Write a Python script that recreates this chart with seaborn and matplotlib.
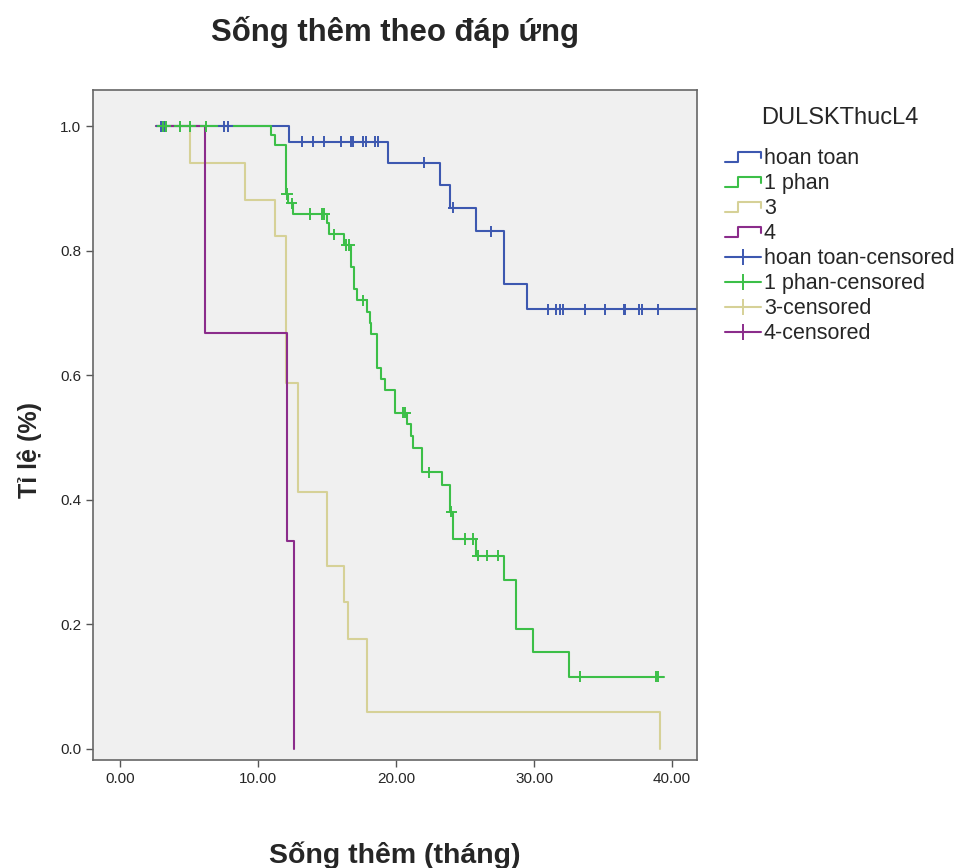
import numpy as np
import pandas as pd
import matplotlib
matplotlib.use("Agg")
import matplotlib.pyplot as plt
import seaborn as sns
from matplotlib.lines import Line2D
from matplotlib.legend_handler import HandlerBase

# ---------------- data ----------------
groups = ["hoan toan", "1 phan", "3", "4"]
start_time = 2.6

ht_event_t = [12.25, 19.4, 23.2, 23.9, 25.8, 27.85, 29.5]
ht_surv = [0.975, 0.941, 0.905, 0.869, 0.831, 0.747, 0.706]
ht_end = 43.0
ht_censor_t = [3.0, 3.2, 7.5, 7.8, 13.2, 14.0, 14.8, 16.0, 16.7, 16.9, 17.6,
               17.8, 18.5, 18.7, 22.05, 24.15, 26.9, 31.0, 31.6, 31.9, 32.1,
               33.7, 35.1, 36.5, 36.6, 37.6, 37.8, 39.0]

p1_event_t = [10.94, 11.2, 12.0, 12.2, 12.5, 15.0, 15.14, 16.25, 16.7, 16.96,
              17.2, 17.9, 18.1, 18.2, 18.6, 18.9, 19.2, 19.9, 20.8, 21.05,
              21.2, 21.9, 23.3, 23.9, 24.1, 25.8, 27.8, 28.7, 29.9, 32.5]
p1_surv = [0.986, 0.969, 0.891, 0.876, 0.859, 0.844, 0.826, 0.809, 0.773, 0.739,
           0.720, 0.702, 0.684, 0.666, 0.612, 0.594, 0.576, 0.540, 0.522, 0.502,
           0.483, 0.444, 0.424, 0.381, 0.337, 0.310, 0.271, 0.193, 0.155, 0.116]
p1_end = 39.4
p1_censor_t = [3.1, 3.3, 4.35, 5.1, 6.2, 12.1, 12.43, 13.77, 14.6, 14.78, 15.53,
               16.4, 16.6, 17.57, 20.5, 20.65, 22.35, 24.0, 25.0, 25.55, 25.9,
               26.6, 27.4, 33.3, 38.85, 39.0]

g3_event_t = [5.07, 9.06, 11.2, 12.0, 12.92, 15.0, 16.25, 16.5, 17.87, 39.1]
g3_surv = [0.941, 0.882, 0.824, 0.588, 0.412, 0.294, 0.235, 0.176, 0.059, 0.0]
g3_end = 39.1
g3_censor_t = []

g4_event_t = [6.16, 12.08, 12.63]
g4_surv = [0.667, 0.333, 0.0]
g4_end = 12.63
g4_censor_t = []

x_ticks = [0, 10, 20, 30, 40]
y_ticks = [0.0, 0.2, 0.4, 0.6, 0.8, 1.0]

colors = ["#3d58b0", "#3cbf48", "#d6d197", "#8b2c8b"]

# ---------------- build tables ----------------
series = {
    "hoan toan": (ht_event_t, ht_surv, ht_end, ht_censor_t),
    "1 phan": (p1_event_t, p1_surv, p1_end, p1_censor_t),
    "3": (g3_event_t, g3_surv, g3_end, g3_censor_t),
    "4": (g4_event_t, g4_surv, g4_end, g4_censor_t),
}

rows, crows = [], []
for g in groups:
    ev, sv, end, cens = series[g]
    rows.append((g, start_time, 1.0))
    for t, s in zip(ev, sv):
        rows.append((g, t, s))
    rows.append((g, end, sv[-1]))
    ev_arr = np.array(ev)
    for c in cens:
        idx = np.searchsorted(ev_arr, c, side="right") - 1
        crows.append((g, c, 1.0 if idx < 0 else sv[idx]))

df = pd.DataFrame(rows, columns=["group", "time", "surv"])
cdf = pd.DataFrame(crows, columns=["group", "time", "surv"])
pal = dict(zip(groups, colors))

# ---------------- plot ----------------
sns.set_style("white")
plt.rcParams["font.family"] = ["Liberation Sans", "DejaVu Sans"]

fig = plt.figure(figsize=(9.58, 8.68), dpi=100)
ax = fig.add_axes([93 / 958, 1 - 760 / 868, (697 - 93) / 958, (760 - 90) / 868])
ax.set_facecolor("#f0f0f0")

sns.lineplot(data=df, x="time", y="surv", hue="group", hue_order=groups,
             palette=pal, drawstyle="steps-post", estimator=None, sort=False,
             linewidth=1.5, legend=False, ax=ax)
sns.scatterplot(data=cdf, x="time", y="surv", hue="group", hue_order=groups,
                palette=pal, marker="+", s=65, linewidth=1.4, legend=False,
                ax=ax, zorder=3)

ax.set_xlim(-1.96, 41.8)
ax.set_ylim(-0.018, 1.058)
ax.set_xticks(x_ticks)
ax.set_xticklabels([f"{v:.2f}" for v in x_ticks], fontsize=11)
ax.set_yticks(y_ticks)
ax.set_yticklabels([f"{v:.1f}" for v in y_ticks], fontsize=11)
ax.tick_params(axis="both", direction="out", length=5, width=1, color="#555555",
               left=True, bottom=True)
for sp in ax.spines.values():
    sp.set_color("#666666")
    sp.set_linewidth(1.2)

ax.set_xlabel("Sống thêm (tháng)", fontsize=20.5, fontweight="bold")
ax.xaxis.set_label_coords(0.5, (760 - 855) / 670)
ax.xaxis.label.set_va("center")
ax.set_ylabel("Tỉ lệ (%)", fontsize=18, fontweight="bold")
ax.yaxis.set_label_coords((30 - 93) / 604, (760 - 450) / 670)
ax.yaxis.label.set_va("center")
fig.text(395 / 958, 1 - 32 / 868, "Sống thêm theo đáp ứng", ha="center",
         va="center", fontsize=22.4, fontweight="bold")


class StepHandler(HandlerBase):
    def create_artists(self, legend, orig_handle, xdescent, ydescent, width,
                       height, fontsize, trans):
        x0 = -xdescent
        lo = -ydescent + height * 0.15
        hi = -ydescent + height * 0.85
        mid = -ydescent + height * 0.45
        xs = [x0, x0 + width * 0.38, x0 + width * 0.38, x0 + width, x0 + width]
        ys = [lo, lo, hi, hi, mid]
        ln = Line2D(xs, ys, color=orig_handle.get_color(), lw=1.5)
        ln.set_transform(trans)
        return [ln]


step_handles = [Line2D([], [], color=c) for c in colors]
cens_handles = [Line2D([], [], color=c, marker="+", markersize=12,
                       markeredgewidth=1.4, lw=1.5) for c in colors]
labels = groups + [g + "-censored" for g in groups]
handler_map = {h: StepHandler() for h in step_handles}
leg = fig.legend(step_handles + cens_handles, labels, handler_map=handler_map,
                 loc="upper left", bbox_to_anchor=(725 / 958, 1 - 107 / 868),
                 frameon=False, fontsize=15.5, title="DULSKThucL4",
                 title_fontsize=17, handlelength=1.65, handletextpad=0.15,
                 labelspacing=0.185, borderpad=0, borderaxespad=0)
leg._legend_box.sep = 14

fig.savefig("out.png", dpi=100, facecolor="white")
